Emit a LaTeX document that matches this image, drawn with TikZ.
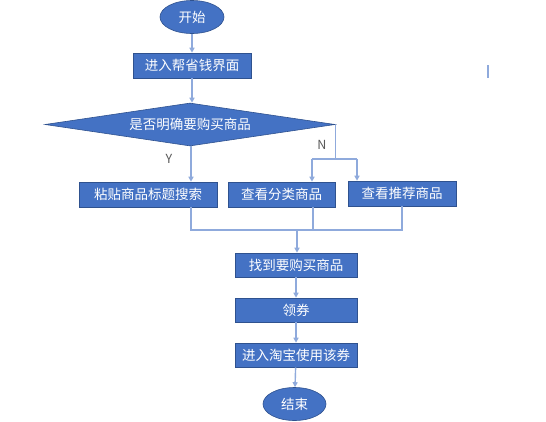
\documentclass[tikz,border=0pt]{standalone}
\usepackage{fontspec}
\newfontfamily\cjk{Noto Sans CJK SC}
\usetikzlibrary{arrows.meta,shapes.geometric}
\definecolor{boxblue}{HTML}{4472C4}
\definecolor{boxedge}{HTML}{2F528F}
\definecolor{linkblue}{HTML}{8FAADC}
\definecolor{labelgray}{HTML}{595959}
\begin{document}
\begin{tikzpicture}[x=1pt,y=-1pt,
  box/.style={draw=boxedge,fill=boxblue,line width=0.6pt,text=white,
    font=\cjk\fontsize{13.5}{16}\selectfont,inner sep=0pt,minimum height=25pt},
  term/.style={box,ellipse,minimum width=64pt,minimum height=33pt},
  decision/.style={box,diamond,aspect=6.74,minimum width=290pt,minimum height=43pt},
  link/.style={draw=linkblue,line width=1.4pt},
  arrowlink/.style={link,-{Triangle[length=5pt,width=5pt]}},
  lbl/.style={text=labelgray,font=\cjk\fontsize{12.5}{14}\selectfont,inner sep=0pt}]
\useasboundingbox (0,0) rectangle (546,421);
\fill[white] (0,0) rectangle (546,421);

\node[term] (start) at (192,17) {开始};
\node[box,minimum width=118pt] (b1) at (192,65.5) {进入帮省钱界面};
\node[decision] (dec) at (190,124.5) {是否明确要购买商品};
\node[box,minimum width=138pt] (A) at (148,194.5) {粘贴商品标题搜索};
\node[box,minimum width=107pt] (B) at (281.5,194.5) {查看分类商品};
\node[box,minimum width=108pt] (C) at (402,193.5) {查看推荐商品};
\node[box,minimum width=122pt,minimum height=24pt] (D) at (296,265) {找到要购买商品};
\node[box,minimum width=122pt,minimum height=24pt] (E) at (296,310) {领券};
\node[box,minimum width=122pt,minimum height=24pt] (F) at (296,355) {进入淘宝使用该券};
\node[term,minimum width=63pt] (end) at (294.5,404) {结束};

\node[lbl] (ylbl) at (169,159) {Y};
\node[lbl] (nlbl) at (322,145) {N};

% top chain
\draw[arrowlink] (start) -- (b1);
\draw[arrowlink] (b1) -- (b1 |- dec.north);
\draw[arrowlink] ([xshift=1pt]dec.south) -- ([xshift=1pt]dec.south |- A.north);

% N branch
\coordinate (nb) at (312,159);
\coordinate (nc) at (357,159);
\draw[link] (dec.east) |- (nb);
\draw[link] (dec.east |- nb) -- (nc);
\draw[arrowlink] (nb) -- (nb |- B.north);
\draw[arrowlink] (nc) -- (nc |- C.north);

% merge
\coordinate (mA) at (191,230);
\coordinate (mB) at (313,230);
\coordinate (mC) at (402,230);
\coordinate (mD) at (297,230);
\draw[link] (mA |- A.south) -- (mA) -- (mC) -- (mC |- C.south);
\draw[link] (mB |- B.south) -- (mB);
\draw[arrowlink] (mD) -- (mD |- D.north);

% lower chain
\draw[arrowlink] (D) -- (E);
\draw[arrowlink] (E) -- (F);
\draw[arrowlink] (F) -- (end);

% stray mark
\draw[link,line width=1.6pt] (488,65) -- (488,78);
\end{tikzpicture}
\end{document}
